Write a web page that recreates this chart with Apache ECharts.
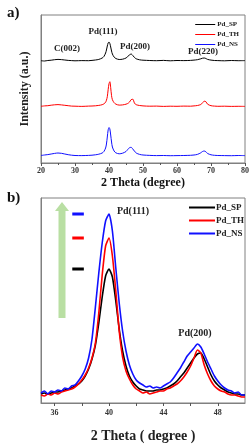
<!DOCTYPE html>
<html>
<head>
<meta charset="utf-8">
<script src="https://cdn.jsdelivr.net/npm/echarts@6/dist/echarts.min.js"></script>
<style>
  html, body { margin: 0; padding: 0; background: #fff; }
  #chart { width: 252px; height: 445px; }
</style>
</head>
<body>
<div id="chart"></div>
<script>
// panel a: XRD patterns 20-80 deg, heights above each baseline
var thetaA = [20, 21, 22, 23, 24, 25, 26, 27, 28, 29, 30, 32, 34, 35, 36, 37, 38, 38.5, 39, 39.25,
  39.5, 39.75, 40, 40.25, 40.5, 40.75, 41, 41.5, 42, 43, 44, 45, 45.5, 46, 46.5, 47, 47.5, 48, 49, 50,
  52, 54, 56, 58, 60, 62, 64, 65, 66, 67, 67.5, 68, 68.5, 69, 70, 71, 72, 74, 76, 78, 80];
var spA = [0.3, 0, 0.5, 0.8, 1.3, 1.6, 1.4, 1.0, 0.6, 0.4, 0.2, 0.4, 0.3, 0.6, 1.0, 1.6, 3.0, 4.5, 8, 11,
  15, 18, 19, 17.5, 14, 10, 7, 4, 2.5, 1.5, 1.8, 3, 4.5, 6, 7, 5.5, 3.5, 2.2, 1.2, 0.8,
  0.5, 0.3, 0.6, 0.2, 0.5, 0.4, 0.6, 0.9, 1.3, 2.2, 2.8, 3, 2.5, 1.6, 0.9, 0.5, 0.4, 0.2, 0.5, 0.3, 0.4];
var thA = [0.4, 0.8, 1.0, 1.5, 1.9, 2.1, 1.8, 1.4, 1.0, 0.6, 0.5, 0.3, 0.6, 0.7, 0.9, 1.3, 2.0, 2.8, 4.5, 6.5,
  10, 17, 23, 25, 19, 11, 7, 4, 2.6, 1.6, 1.8, 2.5, 3.2, 4.5, 7, 7.5, 3.5, 2, 1.2, 0.8,
  0.5, 0.6, 0.3, 0.5, 0.4, 0.6, 0.5, 0.8, 1.2, 2.2, 3.8, 5.5, 5, 2.5, 1.0, 0.6, 0.4, 0.5, 0.3, 0.4, 0.3];
var nsA = [0.5, 1.0, 1.4, 2.0, 2.6, 3.0, 2.7, 2.0, 1.3, 0.8, 0.5, 0.4, 0.6, 0.8, 1.2, 1.8, 3.0, 4.5, 8, 12,
  19, 26, 28.5, 27, 21, 14, 9, 5, 3.2, 2.2, 2.8, 4.5, 6.5, 8.2, 8.7, 7, 4.8, 3, 1.6, 1.0,
  0.6, 0.4, 0.5, 0.3, 0.4, 0.5, 0.7, 1.0, 1.6, 3.2, 4.5, 5, 4.2, 2.5, 1.2, 0.7, 0.5, 0.4, 0.3, 0.5, 0.4];
// vertical stacking offsets for SP, TH, NS
var offsetsA = [102, 56.3, 7];

// panel b: zoom 35-50 deg
var thetaB = [35, 35.25, 35.5, 35.75, 36, 36.25, 36.5, 36.75, 37, 37.25, 37.5, 37.75,
  38, 38.25, 38.5, 38.75, 39, 39.25, 39.5, 39.75, 40, 40.25, 40.5, 40.75,
  41, 41.25, 41.5, 41.75, 42, 42.25, 42.5, 42.75, 43, 43.25, 43.5, 43.75,
  44, 44.25, 44.5, 44.75, 45, 45.25, 45.5, 45.75, 46, 46.25, 46.5, 46.75,
  47, 47.25, 47.5, 47.75, 48, 48.25, 48.5, 48.75, 49, 49.25, 49.5, 49.75, 50];
var spB = [9, 10, 9, 10, 11, 11, 12, 13, 14, 15, 17, 19,
  22, 27, 34, 44, 58, 80, 106, 127, 134, 126, 102, 74,
  52, 37, 27, 21, 17, 14, 13, 12, 12, 12, 13, 13,
  14, 15, 17, 19, 22, 26, 30, 35, 40, 45, 49, 50,
  44, 36, 28, 22, 18, 15, 13, 11, 10, 9, 9, 8, 8];
var thB = [8, 7, 9, 8, 10, 9, 11, 12, 13, 14, 16, 19,
  23, 28, 35, 45, 60, 90, 128, 157, 165, 147, 112, 72,
  46, 32, 24, 18, 14, 12, 10, 11, 9, 10, 11, 12,
  12, 14, 15, 17, 19, 22, 26, 31, 37, 45, 53, 50,
  38, 29, 22, 17, 14, 12, 11, 9, 8, 8, 7, 6, 6];
var nsB = [10, 12, 9, 12, 11, 13, 12, 15, 14, 17, 18, 22,
  27, 34, 45, 64, 96, 130, 160, 182, 189, 172, 135, 100,
  72, 52, 38, 29, 23, 20, 18, 16, 17, 15, 16, 15,
  17, 19, 21, 25, 30, 35, 41, 47, 51, 55, 59, 56,
  49, 41, 34, 27, 22, 18, 15, 13, 12, 10, 11, 8, 8];

var names = ['Pd_SP', 'Pd_TH', 'Pd_NS'];
var colors = ['#000000', '#ff0000', '#1010ff'];
var ticksA = [20, 30, 40, 50, 60, 70, 80];
var ticksB = [36, 38, 40, 42, 44, 46, 48];
var labelsB = [36, 40, 44, 48];
var dashX = [37.3, 38.15];

var serif = '"Liberation Serif", "DejaVu Serif", serif';

function pairs(xs, ys, off) {
  return xs.map(function (x, i) { return [x, ys[i] + (off || 0)]; });
}

var rawA = [spA, thA, nsA];
var rawB = [spB, thB, nsB];
var series = [];
names.forEach(function (n, k) {
  series.push({
    name: n, type: 'line', xAxisIndex: 0, yAxisIndex: 0,
    data: pairs(thetaA, rawA[k], offsetsA[k]),
    showSymbol: false, smooth: 0.3, color: colors[k],
    lineStyle: { width: 1 }, z: 3 + k
  });
});
// draw order in b: black, red, blue on top-ish
names.forEach(function (n, k) {
  series.push({
    name: n, type: 'line', xAxisIndex: 1, yAxisIndex: 1,
    data: pairs(thetaB, rawB[k]),
    showSymbol: false, smooth: 0.2, color: colors[k],
    lineStyle: { width: 1.6 }, z: 3 + k
  });
  // short dash marking each peak height
  var peak = Math.max.apply(null, rawB[k]);
  series.push({
    type: 'line', xAxisIndex: 1, yAxisIndex: 1,
    data: [[dashX[0], peak], [dashX[1], peak]],
    showSymbol: false, color: colors[k], silent: true,
    lineStyle: { width: 3 }, z: 6
  });
});

var tickLabel = { fontFamily: serif, fontWeight: 'bold', fontSize: 8, color: '#333', margin: 4 };
var axisGray = { lineStyle: { color: '#808080', width: 1 } };

var option = {
  animation: false,
  backgroundColor: '#fff',
  grid: [
    { left: 41, right: 7, top: 15, height: 148, show: true, borderColor: '#808080', borderWidth: 1 },
    { left: 41, right: 7, top: 198, height: 205, show: true, borderColor: '#808080', borderWidth: 1 }
  ],
  xAxis: [
    {
      gridIndex: 0, type: 'value', min: 20, max: 80, interval: 10,
      axisLine: axisGray,
      axisTick: { show: true, length: 3, lineStyle: { color: '#555' } },
      minorTick: { show: true, splitNumber: 2, length: 2, lineStyle: { color: '#555' } },
      splitLine: { show: false },
      axisLabel: Object.assign({}, tickLabel, { customValues: ticksA }),
      name: '2 Theta (degree)', nameLocation: 'middle', nameGap: 14,
      nameTextStyle: { fontFamily: serif, fontWeight: 'bold', fontSize: 12, color: '#111' }
    },
    {
      gridIndex: 1, type: 'value', min: 35, max: 50,
      axisLine: axisGray,
      axisTick: { show: true, length: 3, customValues: ticksB, lineStyle: { color: '#555' } },
      splitLine: { show: false },
      axisLabel: Object.assign({}, tickLabel, { customValues: labelsB, margin: 6 }),
      name: '2 Theta ( degree )', nameLocation: 'middle', nameGap: 26,
      nameTextStyle: { fontFamily: serif, fontWeight: 'bold', fontSize: 14, color: '#222' }
    }
  ],
  yAxis: [
    {
      gridIndex: 0, type: 'value', min: 0, max: 148,
      axisLine: { show: true, lineStyle: { color: '#808080' } },
      axisTick: { show: false }, axisLabel: { show: false }, splitLine: { show: false },
      name: 'Intensity (a.u.)', nameLocation: 'middle', nameGap: 10,
      nameTextStyle: { fontFamily: serif, fontWeight: 'bold', fontSize: 12, color: '#222' }
    },
    {
      gridIndex: 1, type: 'value', min: 0, max: 205,
      axisLine: { show: true, lineStyle: { color: '#808080' } },
      axisTick: { show: false }, axisLabel: { show: false }, splitLine: { show: false }
    }
  ],
  legend: [
    {
      data: names, orient: 'vertical', right: 8, top: 16,
      itemWidth: 20, itemHeight: 6, itemGap: 3, icon: 'path://M0,0 L20,0 L20,1 L0,1 Z',
      textStyle: { fontFamily: serif, fontWeight: 'bold', fontSize: 7, color: '#222', padding: [0, 0, 0, -3] }
    },
    {
      data: names, orient: 'vertical', right: 3, top: 198,
      itemWidth: 26, itemHeight: 8, itemGap: 4, icon: 'path://M0,0 L26,0 L26,2 L0,2 Z',
      textStyle: { fontFamily: serif, fontWeight: 'bold', fontSize: 9, color: '#222', padding: [0, 0, 0, -4] }
    }
  ],
  graphic: [
    { type: 'text', left: 7, top: 6, style: { text: 'a)', font: 'bold 15px ' + serif, fill: '#111' } },
    { type: 'text', left: 7, top: 191, style: { text: 'b)', font: 'bold 15px ' + serif, fill: '#111' } },
    { type: 'text', x: 67, y: 49, style: { text: 'C(002)', font: 'bold 9px ' + serif, fill: '#222', align: 'center', verticalAlign: 'middle' } },
    { type: 'text', x: 103, y: 32, style: { text: 'Pd(111)', font: 'bold 9px ' + serif, fill: '#222', align: 'center', verticalAlign: 'middle' } },
    { type: 'text', x: 135, y: 47, style: { text: 'Pd(200)', font: 'bold 9px ' + serif, fill: '#222', align: 'center', verticalAlign: 'middle' } },
    { type: 'text', x: 203, y: 52, style: { text: 'Pd(220)', font: 'bold 9px ' + serif, fill: '#222', align: 'center', verticalAlign: 'middle' } },
    { type: 'text', x: 133, y: 211, style: { text: 'Pd(111)', font: 'bold 10px ' + serif, fill: '#222', align: 'center', verticalAlign: 'middle' } },
    { type: 'text', x: 195, y: 333, style: { text: 'Pd(200)', font: 'bold 10px ' + serif, fill: '#222', align: 'center', verticalAlign: 'middle' } },
    {
      type: 'polygon', z: 1,
      shape: { points: [[58.5, 318], [65.5, 318], [65.5, 211], [69, 211], [62, 202], [55, 211], [58.5, 211]] },
      style: { fill: '#b9dfa3' }
    }
  ],
  series: series
};

var chart = echarts.init(document.getElementById('chart'));
chart.setOption(option);
</script>
</body>
</html>
